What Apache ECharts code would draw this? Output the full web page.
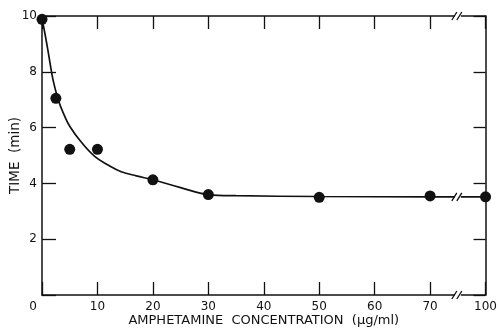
<!DOCTYPE html>
<html>
<head>
<meta charset="utf-8">
<script src="https://cdn.jsdelivr.net/npm/echarts@6/dist/echarts.min.js"></script>
<style>
html, body { margin: 0; padding: 0; background: #fff; }
#main { width: 500px; height: 332px; }
</style>
</head>
<body>
<div id="main"></div>
<script>
// measured points (concentration ug/ml, time min)
var concentration = [0, 2.5, 5, 10, 20, 30, 50, 70, 100];
var timeMin = [9.88, 7.05, 5.22, 5.22, 4.13, 3.6, 3.5, 3.55, 3.52];

// hand drawn fitted curve
var curveX = [0, 0.5, 1, 1.5, 2, 3, 4, 5, 7, 9.5, 12, 14.3, 17, 20, 25, 30, 35, 50, 70, 100];
var curveY = [9.9, 9.4, 8.85, 8.25, 7.7, 6.95, 6.45, 6.05, 5.5, 4.97, 4.65, 4.42, 4.27, 4.13, 3.85, 3.6, 3.56, 3.53, 3.52, 3.52];

var breakAt = 75;

// axis is broken after 70: 70..100 is squeezed into 70..80
function toAxis(x) {
	return x > 70 ? 70 + (x - 70) / 3 : x;
}

function pairs(xs, ys) {
	var out = [];
	for (var i = 0; i < xs.length; i++) {
		out.push([toAxis(xs[i]), ys[i]]);
	}
	return out;
}

var ink = '#111';
var font = 'DejaVu Sans';
var tick = { show: true, inside: true, length: 13, lineStyle: { color: ink, width: 1.3 } };

var chart = echarts.init(document.getElementById('main'));
var option = {
	animation: false,
	grid: { left: 42, right: 14, top: 16, bottom: 35, containLabel: false },
	xAxis: [{
		type: 'value', min: 0, max: 80, interval: 10,
		position: 'bottom',
		name: 'AMPHETAMINE  CONCENTRATION  (\u03bcg/ml)',
		nameLocation: 'middle', nameGap: 19, nameMoveOverlap: false,
		nameTextStyle: { color: ink, fontFamily: font, fontSize: 13 },
		axisLine: { show: true, lineStyle: { color: ink, width: 1.5 } },
		axisTick: tick,
		splitLine: { show: false },
		axisLabel: {
			color: ink, fontFamily: font, fontSize: 12, margin: 6,
			formatter: function (v) {
				if (v === 0) return '{z|0}';
				if (v === 80) return '100';
				return String(v);
			},
			rich: { z: { padding: [0, 18, 0, 0], color: ink, fontFamily: font, fontSize: 12 } }
		}
	}, {
		type: 'value', min: 0, max: 80, interval: 10,
		position: 'top',
		axisLine: { show: true, onZero: false, lineStyle: { color: ink, width: 1.5 } },
		axisTick: tick,
		axisLabel: { show: false },
		splitLine: { show: false }
	}],
	yAxis: [{
		type: 'value', min: 0, max: 10, interval: 2,
		position: 'left',
		name: 'TIME  (min)',
		nameLocation: 'middle', nameGap: 20, nameRotate: 90, nameMoveOverlap: false,
		nameTextStyle: { color: ink, fontFamily: font, fontSize: 13.5 },
		axisLine: { show: true, lineStyle: { color: ink, width: 1.5 } },
		axisTick: { show: true, inside: true, length: 14, lineStyle: { color: ink, width: 1.3 } },
		splitLine: { show: false },
		axisLabel: {
			color: ink, fontFamily: font, fontSize: 12, margin: 5,
			formatter: function (v) { return v === 0 ? '' : String(v); }
		}
	}, {
		type: 'value', min: 0, max: 10, interval: 2,
		position: 'right',
		axisLine: { show: true, onZero: false, lineStyle: { color: ink, width: 1.5 } },
		axisTick: { show: true, inside: true, length: 12, lineStyle: { color: ink, width: 1.3 } },
		axisLabel: { show: false },
		splitLine: { show: false }
	}],
	series: [{
		name: 'fit',
		type: 'line',
		data: pairs(curveX, curveY),
		smooth: 0.4,
		showSymbol: false,
		lineStyle: { color: ink, width: 1.7 },
		z: 2
	}, {
		name: 'time',
		type: 'scatter',
		data: pairs(concentration, timeMin),
		symbolSize: 11,
		itemStyle: { color: ink, opacity: 1 },
		z: 5
	}]
};
chart.setOption(option);

// "//" break marks on the two x axes and on the curve
function breakMark(yVal) {
	var p = chart.convertToPixel({ xAxisIndex: 0, yAxisIndex: 0 }, [breakAt, yVal]);
	return [{
		type: 'rect',
		shape: { x: p[0] - 3, y: p[1] - 3, width: 6, height: 6 },
		style: { fill: '#fff' },
		z: 10
	}, {
		type: 'line',
		shape: { x1: p[0] - 6, y1: p[1] + 4, x2: p[0] - 1, y2: p[1] - 4 },
		style: { stroke: ink, lineWidth: 1.3 },
		z: 11
	}, {
		type: 'line',
		shape: { x1: p[0] - 1, y1: p[1] + 4, x2: p[0] + 4, y2: p[1] - 4 },
		style: { stroke: ink, lineWidth: 1.3 },
		z: 11
	}];
}
var marks = [].concat(breakMark(0), breakMark(10), breakMark(3.52));
chart.setOption({ graphic: marks });
</script>
</body>
</html>
